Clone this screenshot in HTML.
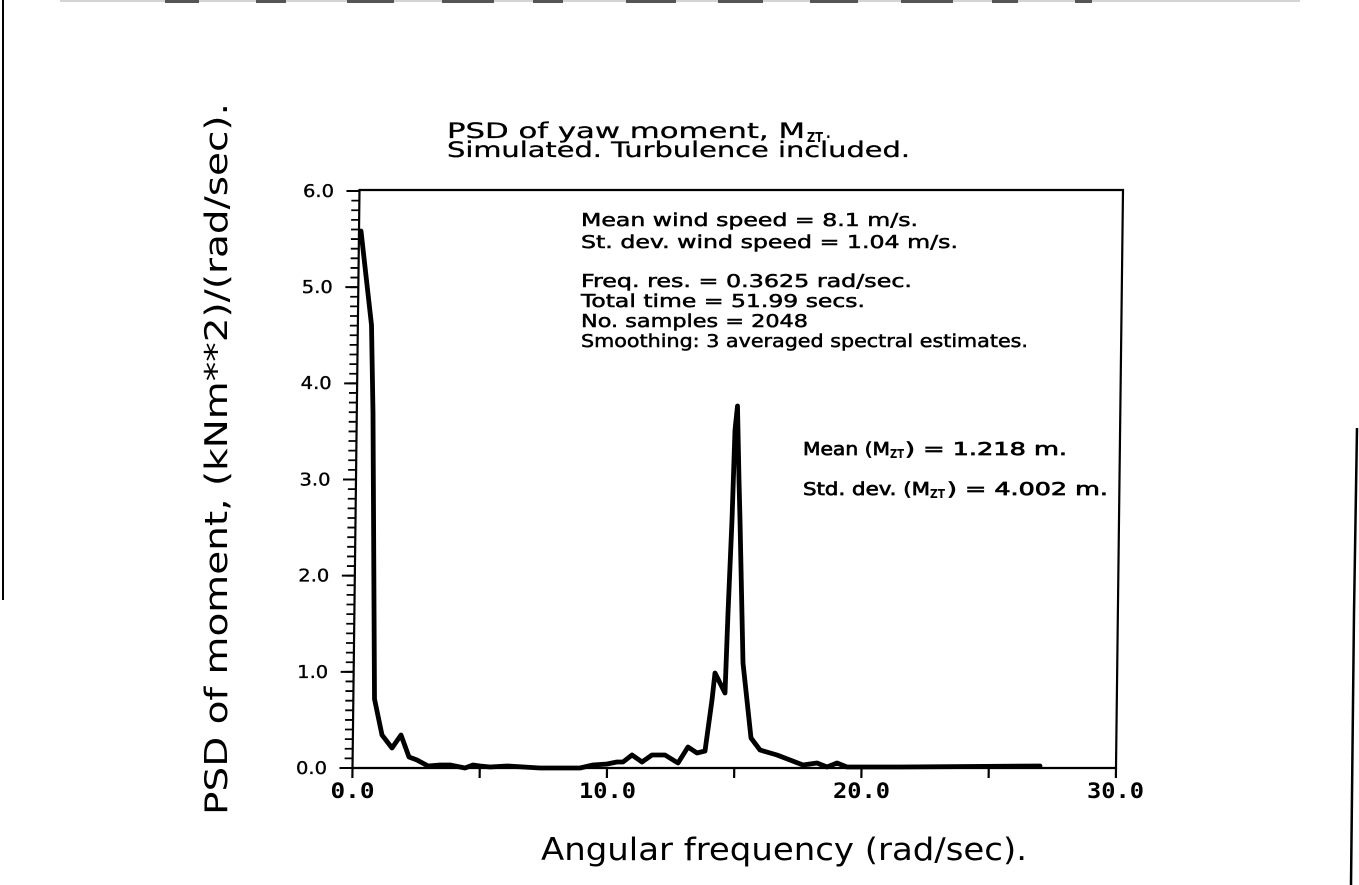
<!DOCTYPE html>
<html>
<head>
<meta charset="utf-8">
<style>
html,body{margin:0;padding:0;background:#fff;}
svg{display:block;}
</style>
</head>
<body>
<svg width="1359" height="885" viewBox="0 0 1359 885" xmlns="http://www.w3.org/2000/svg">
<rect width="1359" height="885" fill="#fff"/>

<!-- top scanned band -->
<rect x="60" y="0" width="1240" height="2" fill="#d4d4d4"/>
<g fill="#555">
<rect x="165" y="0" width="34" height="3"/>
<rect x="256" y="0" width="30" height="3"/>
<rect x="347" y="0" width="47" height="3"/>
<rect x="442" y="0" width="52" height="3"/>
<rect x="533" y="0" width="30" height="3"/>
<rect x="626" y="0" width="50" height="3"/>
<rect x="718" y="0" width="45" height="3"/>
<rect x="810" y="0" width="48" height="3"/>
<rect x="901" y="0" width="52" height="3"/>
<rect x="992" y="0" width="26" height="3"/>
<rect x="1075" y="0" width="17" height="3"/>
</g>

<!-- page borders -->
<line x1="3" y1="0" x2="3" y2="600" stroke="#000" stroke-width="2"/>
<polyline points="1357,428 1354,613 1351,885" fill="none" stroke="#000" stroke-width="2.5"/>

<!-- plot frame (slightly sheared like scan) -->
<g transform="translate(9.3,0) skewX(-0.694)" stroke="#000" fill="none">
<path d="M352.5 768 V190 H1116 V768 Z" stroke-width="2.2"/>
<line x1="348.5" y1="768.9" x2="348.5" y2="189" stroke-width="8" stroke-dasharray="1.8 7.8167"/>
<path d="M339.5 768H352.5 M339.5 671.83H352.5 M339.5 575.67H352.5 M339.5 479.5H352.5 M339.5 383.33H352.5 M339.5 287.17H352.5 M339.5 191H352.5" stroke-width="2"/>
<path d="M352.5 768V778 M479.75 768V778 M607 768V778 M734.25 768V778 M861.5 768V778 M988.75 768V778 M1116 768V778" stroke-width="2.2"/>
</g>

<!-- data curve -->
<polyline fill="none" stroke="#000" stroke-width="4.8" stroke-linejoin="round" stroke-linecap="round"
points="361,231 371.5,325 373,413 374.5,699 382,735 392,748 401,735 409,757 417,760 428,766 440,765 450,765 465,768 473,765 480,766 490,767 507,766 540,768 580,768 593,765 607,764 617,762 623,762 632,755 642,762 652,755 665,755 678,763 688,747 697,753 705,751 712,700 715,673 725,693 728,613 732,520 735,430 737.5,406 739,480 740,520 743,663 751,738 760,750 777,755 790,760 803,765 817,763 827,767 837,763 847,767 900,767 1040,766"/>

<g font-family="'DejaVu Sans', 'Liberation Sans', sans-serif" fill="#000">
<!-- title -->
<text x="447" y="138" font-size="21" textLength="358" lengthAdjust="spacingAndGlyphs" stroke="#000" stroke-width="0.3">PSD of yaw moment, M</text>
<text x="807" y="142" font-size="13" font-weight="bold" textLength="16" lengthAdjust="spacingAndGlyphs">ZT</text>
<text x="825" y="138" font-size="21">.</text>
<text x="447" y="157" font-size="21" textLength="463" lengthAdjust="spacingAndGlyphs" stroke="#000" stroke-width="0.3">Simulated. Turbulence included.</text>

<!-- info block -->
<g font-size="18" stroke="#000" stroke-width="0.5">
<text x="581" y="226" textLength="337" lengthAdjust="spacingAndGlyphs">Mean wind speed = 8.1 m/s.</text>
<text x="581" y="248" textLength="377" lengthAdjust="spacingAndGlyphs">St. dev. wind speed = 1.04 m/s.</text>
<text x="581" y="287" textLength="331" lengthAdjust="spacingAndGlyphs">Freq. res. = 0.3625 rad/sec.</text>
<text x="581" y="307" textLength="284" lengthAdjust="spacingAndGlyphs">Total time = 51.99 secs.</text>
<text x="581" y="327" textLength="227" lengthAdjust="spacingAndGlyphs">No. samples = 2048</text>
<text x="581" y="347" textLength="447" lengthAdjust="spacingAndGlyphs">Smoothing: 3 averaged spectral estimates.</text>
</g>

<!-- mean / std -->
<g font-size="18" stroke="#000" stroke-width="0.7">
<text x="803" y="455" textLength="87" lengthAdjust="spacingAndGlyphs">Mean (M</text>
<text x="905" y="455" textLength="162" lengthAdjust="spacingAndGlyphs">) = 1.218 m.</text>
<text x="803" y="495" textLength="127" lengthAdjust="spacingAndGlyphs">Std. dev. (M</text>
<text x="947" y="495" textLength="161" lengthAdjust="spacingAndGlyphs">) = 4.002 m.</text>
</g>
<text x="890" y="458" font-size="12" font-weight="bold" textLength="14" lengthAdjust="spacingAndGlyphs">ZT</text>
<text x="930" y="498" font-size="12" font-weight="bold" textLength="15" lengthAdjust="spacingAndGlyphs">ZT</text>

<!-- y tick labels -->
<g font-size="17.5" stroke="#000" stroke-width="0.35">
<text x="303" y="197" textLength="31" lengthAdjust="spacingAndGlyphs">6.0</text>
<text x="301.8" y="293" textLength="31" lengthAdjust="spacingAndGlyphs">5.0</text>
<text x="300.7" y="389" textLength="31" lengthAdjust="spacingAndGlyphs">4.0</text>
<text x="299.5" y="485.5" textLength="31" lengthAdjust="spacingAndGlyphs">3.0</text>
<text x="298.3" y="581.7" textLength="31" lengthAdjust="spacingAndGlyphs">2.0</text>
<text x="297.2" y="677.8" textLength="31" lengthAdjust="spacingAndGlyphs">1.0</text>
<text x="296" y="774" textLength="31" lengthAdjust="spacingAndGlyphs">0.0</text>
</g>

<!-- axis titles -->
<text transform="translate(227,815) rotate(-90)" font-size="31" textLength="712" lengthAdjust="spacingAndGlyphs">PSD of moment, (kNm**2)/(rad/sec).</text>
<text x="541" y="860" font-size="31" textLength="486" lengthAdjust="spacingAndGlyphs">Angular frequency (rad/sec).</text>
</g>

<!-- x tick labels -->
<g font-family="'DejaVu Sans Mono', 'Liberation Mono', monospace" font-size="21" font-weight="bold" fill="#000">
<text x="330.5" y="798" textLength="44" lengthAdjust="spacingAndGlyphs">0.0</text>
<text x="579" y="798" textLength="57" lengthAdjust="spacingAndGlyphs">10.0</text>
<text x="833" y="798" textLength="57" lengthAdjust="spacingAndGlyphs">20.0</text>
<text x="1087" y="798" textLength="57" lengthAdjust="spacingAndGlyphs">30.0</text>
</g>
</svg>
</body>
</html>
